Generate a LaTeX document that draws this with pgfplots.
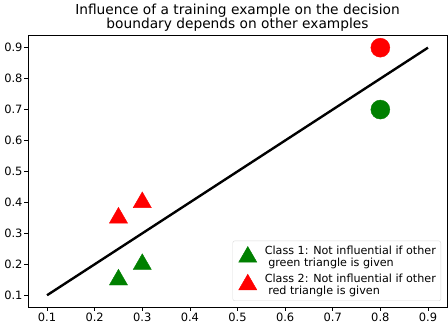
\documentclass[border=0pt]{standalone}
\usepackage{fontspec}
\setmainfont{DejaVu Sans}
\usepackage{pgfplots}
\usetikzlibrary{calc}
\pgfplotsset{compat=1.18}
\definecolor{mgreen}{RGB}{0,128,0}
\definecolor{mred}{RGB}{255,0,0}
\begin{document}
\begin{tikzpicture}[x=1bp,y=1bp]
\begin{axis}[
  name=ax,
  at={(0,0)}, anchor=south west,
  scale only axis,
  width=419bp, height=272bp,
  xmin=0.06, xmax=0.94, ymin=0.062, ymax=0.941,
  xtick={0.1,0.2,0.3,0.4,0.5,0.6,0.7,0.8,0.9},
  ytick={0.1,0.2,0.3,0.4,0.5,0.6,0.7,0.8,0.9},
  xticklabels={0.1,0.2,0.3,0.4,0.5,0.6,0.7,0.8,0.9},
  yticklabels={0.1,0.2,0.3,0.4,0.5,0.6,0.7,0.8,0.9},
  tick align=outside, xtick pos=bottom, ytick pos=left,
  major tick length=3.5bp,
  tick style={black, line width=0.6pt},
  tick label style={font=\fontsize{11.5}{13}\selectfont},
  xticklabel style={yshift=1.5bp},
  yticklabel style={xshift=1.5bp},
  axis line style={line width=0.6pt},
  title={Influence of a training example on the decision\\boundary depends on other examples},
  every axis title/.style={at={(0.5,1)}, anchor=south, font=\fontsize{13.8}{14.5}\selectfont, align=center, inner sep=0pt, yshift=3bp},
  legend cell align=left,
  legend style={font=\fontsize{11.2}{12.3}\selectfont, draw=black!15, rounded corners=2pt, align=left, inner sep=3pt, row sep=1.5bp, at={(0.9857,0.0221)}, anchor=south east},
  legend image code/.code={\path[draw=none,fill=none] (0bp,-8bp) rectangle (27bp,8bp); \draw[#1] plot coordinates {(12bp,0bp)};},
]
\addplot[black, line width=2.4pt, forget plot] coordinates {(0.1,0.1) (0.9,0.9)};
\addplot[only marks, mark=triangle*, mark size=10.5bp, mgreen, mark options={fill=mgreen, draw=none}] coordinates {(0.25,0.15) (0.3,0.2)};
\addlegendentry{Class 1: Not influential if other\\\hspace*{3.5bp}green triangle is given}
\addplot[only marks, mark=triangle*, mark size=10.5bp, mred, mark options={fill=mred, draw=none}] coordinates {(0.25,0.35) (0.3,0.4)};
\addlegendentry{Class 2: Not influential if other\\\hspace*{3.5bp}red triangle is given}
\addplot[only marks, mark=*, mark size=9.5bp, mred, mark options={fill=mred, draw=none}, forget plot] coordinates {(0.8,0.9)};
\addplot[only marks, mark=*, mark size=9.5bp, mgreen, mark options={fill=mgreen, draw=none}, forget plot] coordinates {(0.8,0.7)};
\end{axis}
\pgfresetboundingbox
\path[use as bounding box] ($(ax.south west)+(-28bp,-19bp)$) rectangle ($(ax.north east)+(1bp,35bp)$);
\end{tikzpicture}
\end{document}
